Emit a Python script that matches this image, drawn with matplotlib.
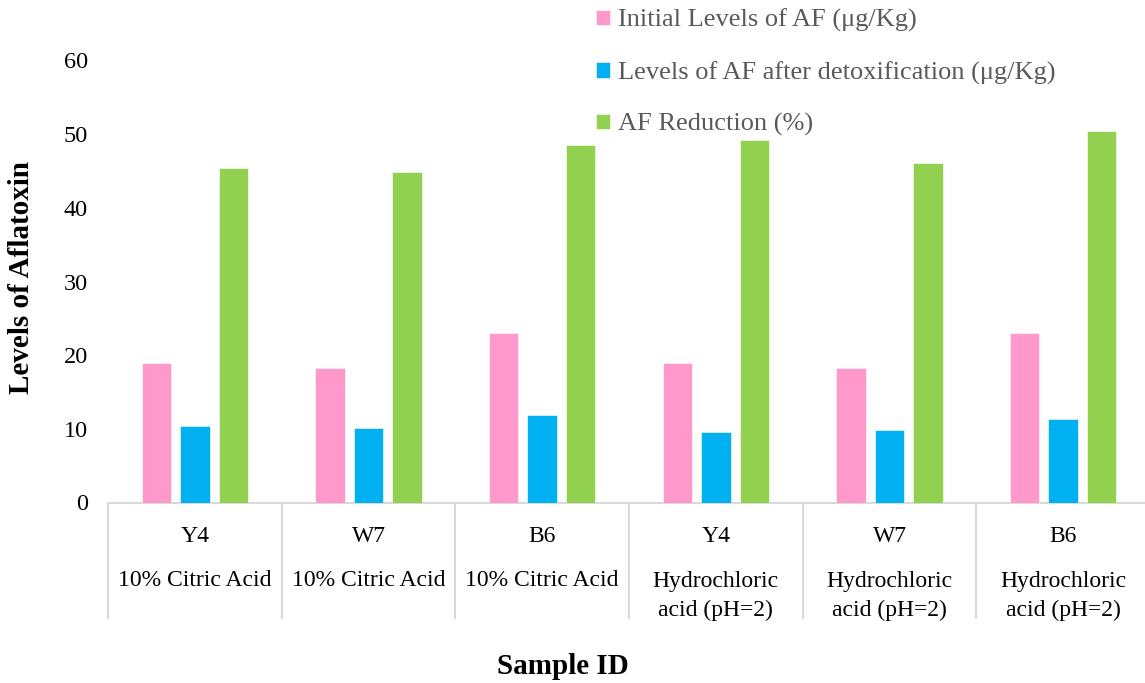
import matplotlib
matplotlib.use("Agg")
import matplotlib.pyplot as plt
import numpy as np

# Aflatoxin detoxification results per sample and treatment
samples = ["Y4", "W7", "B6", "Y4", "W7", "B6"]
treatments = ["10% Citric Acid", "10% Citric Acid", "10% Citric Acid",
              "Hydrochloric\nacid (pH=2)", "Hydrochloric\nacid (pH=2)", "Hydrochloric\nacid (pH=2)"]
initial_levels = [19.0, 18.25, 23.0, 19.0, 18.25, 23.0]
after_detox = [10.4, 10.07, 11.83, 9.6, 9.84, 11.37]
reduction_pct = [45.4, 44.9, 48.5, 49.2, 46.1, 50.4]

series_names = ["Initial Levels of AF (μg/Kg)",
                "Levels of AF after detoxification (μg/Kg)",
                "AF Reduction (%)"]
series_colors = ["#FF99CC", "#00B0F0", "#92D050"]

plt.rcParams["font.family"] = ["Liberation Serif", "DejaVu Serif"]

W, H = 1145, 683
fig = plt.figure(figsize=(W / 100, H / 100), dpi=100)

left_px, right_px = 108, 1150
top_px, bottom_px = 60.5, 502.5
ax = fig.add_axes([left_px / W, 1 - bottom_px / H,
                   (right_px - left_px) / W, (bottom_px - top_px) / H])

x = np.arange(len(samples))
bar_w = 0.169
offset = 0.222
bars = []
for k, (vals, col) in enumerate(zip([initial_levels, after_detox, reduction_pct], series_colors)):
    b = ax.bar(x + (k - 1) * offset, vals, width=bar_w, color=col,
               edgecolor="white", linewidth=0.4, label=series_names[k], zorder=3)
    bars.append(b)

ax.set_xlim(-0.5, len(samples) - 0.5)
ax.set_ylim(0, 60)
ax.set_yticks(np.arange(0, 61, 10))
ax.tick_params(axis="y", length=0, pad=14.5, labelsize=17.5, labelcolor="black")
ax.set_xticks([])

for s in ["left", "top", "right"]:
    ax.spines[s].set_visible(False)
ax.spines["bottom"].set_color("#D9D9D9")
ax.spines["bottom"].set_linewidth(1.5)

# Category box dividers below the axis
axis_h = bottom_px - top_px
line_bottom = -(618 - bottom_px) / axis_h
trans = ax.get_xaxis_transform()
for xb in np.arange(-0.5, len(samples), 1.0):
    ax.plot([xb, xb], [0, line_bottom], transform=trans, color="#D9D9D9",
            linewidth=1.5, clip_on=False)

# Two-level category labels
lab_fs = 17
for i, (s, t) in enumerate(zip(samples, treatments)):
    ax.text(i, -(537 - bottom_px) / axis_h, s, transform=trans,
            ha="center", va="center", fontsize=lab_fs)
    if "\n" in t:
        l1, l2 = t.split("\n")
        ax.text(i, -(581 - bottom_px) / axis_h, l1, transform=trans,
                ha="center", va="center", fontsize=lab_fs)
        ax.text(i, -(610 - bottom_px) / axis_h, l2, transform=trans,
                ha="center", va="center", fontsize=lab_fs)
    else:
        ax.text(i, -(581 - bottom_px) / axis_h, t, transform=trans,
                ha="center", va="center", fontsize=lab_fs)

fig.text(22 / W, 1 - 277 / H, "Levels of Aflatoxin", rotation=90,
         ha="center", va="center", fontsize=21, fontweight="bold")
fig.text(563 / W, 1 - 667 / H, "Sample ID", ha="center", va="center",
         fontsize=21, fontweight="bold")

leg = fig.legend(handles=bars, labels=series_names, loc="upper left",
                 bbox_to_anchor=(596 / W, 1 - 9 / H), frameon=False,
                 fontsize=19, handlelength=0.53, handleheight=0.53,
                 handletextpad=0.3, labelspacing=1.09, borderaxespad=0,
                 borderpad=0)
for txt in leg.get_texts():
    txt.set_color("#595959")

fig.savefig("out.png", dpi=100)
